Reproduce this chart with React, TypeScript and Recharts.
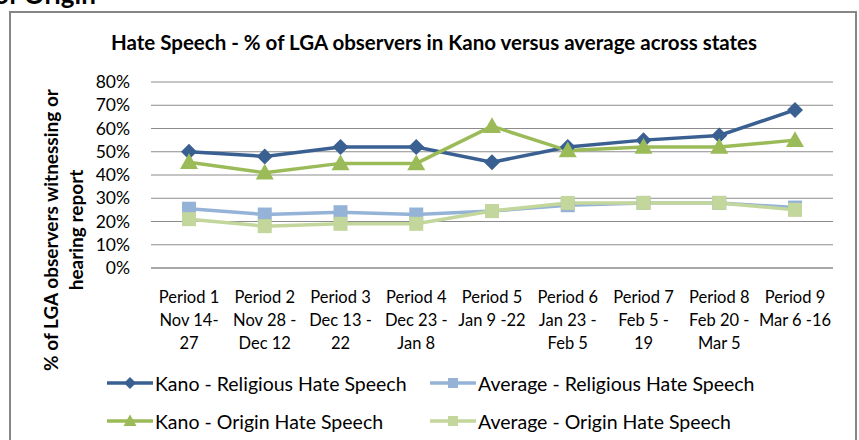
import React from "react";
import { LineChart, Line, XAxis, YAxis, CartesianGrid } from "recharts";

const periods = ["Period 1", "Period 2", "Period 3", "Period 4", "Period 5", "Period 6", "Period 7", "Period 8", "Period 9"];
const dateLine1 = ["Nov 14-", "Nov 28 -", "Dec 13 -", "Dec 23 -", "Jan 9 -22", "Jan 23 -", "Feb 5 -", "Feb 20 -", "Mar 6 -16"];
const dateLine2 = ["27", "Dec 12", "22", "Jan 8", "", "Feb 5", "19", "Mar 5", ""];

const kanoReligious = [50, 48, 52, 52, 45.5, 52, 55, 57, 68];
const averageReligious = [25.5, 23, 24, 23, 24.5, 27, 28, 28, 26];
const kanoOrigin = [45.5, 41, 45, 45, 61, 50.5, 52, 52, 55];
const averageOrigin = [21, 18, 19, 19, 24.5, 28, 28, 28, 25];

const yTicks = [0, 10, 20, 30, 40, 50, 60, 70, 80];

const seriesNames = [
  "Kano - Religious Hate Speech",
  "Average - Religious Hate Speech",
  "Kano - Origin Hate Speech",
  "Average - Origin Hate Speech",
];

const data = periods.map((p, i) => ({
  period: p,
  kanoReligious: kanoReligious[i],
  averageReligious: averageReligious[i],
  kanoOrigin: kanoOrigin[i],
  averageOrigin: averageOrigin[i],
}));

const FONT = "Lato, 'Open Sans', sans-serif";
const C_KR = "#3A6092";
const C_AR = "#95B3D7";
const C_KO = "#9BBB59";
const C_AO = "#C3D69B";
const GRID = "#8C8C8C";

const Diamond = ({ cx, cy, color, r = 8 }: any) => (
  <path d={`M${cx},${cy - r}L${cx + r},${cy}L${cx},${cy + r}L${cx - r},${cy}Z`} fill={color} />
);
const Triangle = ({ cx, cy, color, r = 9 }: any) => (
  <path d={`M${cx},${cy - r}L${cx + r},${cy + r * 0.75}L${cx - r},${cy + r * 0.75}Z`} fill={color} />
);
const Square = ({ cx, cy, color, r = 7 }: any) => (
  <rect x={cx - r} y={cy - r} width={2 * r} height={2 * r} fill={color} />
);

const mkDot = (Shape: any, color: string) => (props: any) => {
  const { cx, cy, index } = props;
  if (cx == null || cy == null) return <g key={index} />;
  return (
    <g key={`d-${index}`}>
      <Shape cx={cx} cy={cy} color={color} />
    </g>
  );
};

const XTick = (props: any) => {
  const { x, y, payload } = props;
  const i = payload.index;
  return (
    <text x={x} y={y} textAnchor="middle" fontFamily={FONT} fontSize={16.5} fill="#000">
      <tspan x={x} dy={33}>{periods[i]}</tspan>
      <tspan x={x} dy={23}>{dateLine1[i]}</tspan>
      {dateLine2[i] ? <tspan x={x} dy={23}>{dateLine2[i]}</tspan> : null}
    </text>
  );
};

const legendItems = [
  { name: seriesNames[0], color: C_KR, shape: Diamond, left: 107, top: 383 },
  { name: seriesNames[1], color: C_AR, shape: Square, left: 430, top: 383 },
  { name: seriesNames[2], color: C_KO, shape: Triangle, left: 107, top: 421 },
  { name: seriesNames[3], color: C_AO, shape: Square, left: 430, top: 421 },
];

const LegendBlock = () => (
  <>
    {legendItems.map((it) => {
      const S = it.shape;
      return (
        <div
          key={it.name}
          style={{
            position: "absolute",
            left: it.left,
            top: it.top - 13,
            height: 26,
            display: "flex",
            alignItems: "center",
            fontFamily: FONT,
            fontSize: 19.5,
            color: "#000",
            whiteSpace: "nowrap",
          }}
        >
          <svg width={46} height={22} style={{ display: "block" }}>
            <line x1={0} y1={11} x2={46} y2={11} stroke={it.color} strokeWidth={3.5} />
            <S cx={23} cy={11} color={it.color} r={S === Square ? 5 : S === Diamond ? 6 : 6.5} />
          </svg>
          <span style={{ marginLeft: 2 }}>{it.name}</span>
        </div>
      );
    })}
  </>
);

export default function App() {
  return (
    <div style={{ position: "absolute", left: 0, top: 0, width: 859, height: 440, background: "#fff", overflow: "hidden" }}>
      <svg width={859} height={440} style={{ position: "absolute", left: 0, top: 0 }}>
        <text x={-6} y={4} fontFamily={FONT} fontWeight="bold" fontSize={26} fill="#000">of Origin</text>
        <rect x={10} y={12} width={846} height={440} fill="#fff" stroke="#868686" strokeWidth={2} />
        <text x={434} y={50} textAnchor="middle" fontFamily={FONT} fontWeight="bold" fontSize={20.5} fill="#000">
          Hate Speech - % of LGA observers in Kano versus average across states
        </text>
        <text transform="translate(58,230) rotate(-90)" textAnchor="middle" fontFamily={FONT} fontWeight="bold" fontSize={19} fill="#000">
          % of LGA observers witnessing or
        </text>
        <text transform="translate(83,230) rotate(-90)" textAnchor="middle" fontFamily={FONT} fontWeight="bold" fontSize={19} fill="#000">
          hearing report
        </text>
      </svg>
      <div style={{ position: "absolute", left: 0, top: 0 }}>
        <LineChart width={859} height={440} data={data} margin={{ top: 82, right: 26, bottom: 0, left: 91 }}>
          <CartesianGrid vertical={false} stroke={GRID} strokeWidth={1} />
          <XAxis
            dataKey="period"
            interval={0}
            height={172}
            padding={{ left: 38, right: 38 }}
            axisLine={{ stroke: GRID }}
            tickLine={false}
            tickSize={0}
            tick={<XTick />}
          />
          <YAxis
            width={60}
            domain={[0, 80]}
            ticks={yTicks}
            interval={0}
            tickFormatter={(v: number) => `${v}%`}
            axisLine={false}
            tickLine={false}
            tickSize={0}
            tickMargin={21}
            tick={{ fontFamily: FONT, fontSize: 17.5, fill: "#000" }}
          />
          <Line dataKey="kanoReligious" name={seriesNames[0]} stroke={C_KR} strokeWidth={3.5} dot={mkDot(Diamond, C_KR)} isAnimationActive={false} />
          <Line dataKey="averageReligious" name={seriesNames[1]} stroke={C_AR} strokeWidth={3.5} dot={mkDot(Square, C_AR)} isAnimationActive={false} />
          <Line dataKey="kanoOrigin" name={seriesNames[2]} stroke={C_KO} strokeWidth={3.5} dot={mkDot(Triangle, C_KO)} isAnimationActive={false} />
          <Line dataKey="averageOrigin" name={seriesNames[3]} stroke={C_AO} strokeWidth={3.5} dot={mkDot(Square, C_AO)} isAnimationActive={false} />
        </LineChart>
      </div>
      <LegendBlock />
    </div>
  );
}
